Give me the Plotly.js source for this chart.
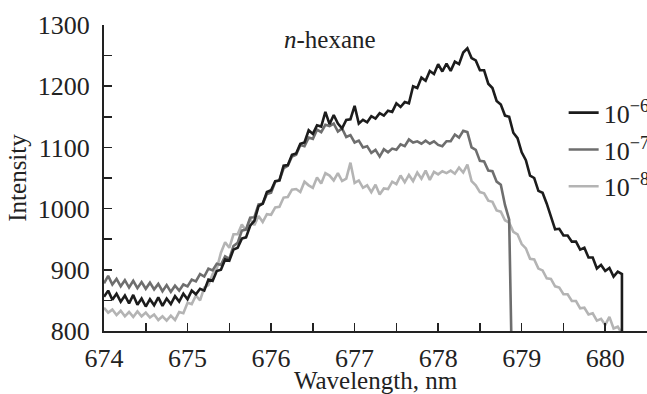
<!DOCTYPE html>
<html>
<head>
<meta charset="utf-8">
<script src="https://cdn.plot.ly/plotly-3.0.1.min.js"></script>
<style>html,body{margin:0;padding:0;background:#fff;overflow:hidden;}#wrap{width:647px;height:394px;overflow:hidden;}#chart{width:680px;height:394px;}</style>
</head>
<body>
<div id="wrap"><div id="chart"></div></div>
<script>
// Wavelength grid (nm)
const wl = [
674.00,674.05,674.10,674.15,674.20,674.25,674.30,674.35,674.40,674.45,
674.50,674.55,674.60,674.65,674.70,674.75,674.80,674.85,674.90,674.95,
675.00,675.05,675.10,675.15,675.20,675.25,675.30,675.35,675.40,675.45,
675.50,675.55,675.60,675.65,675.70,675.75,675.80,675.85,675.90,675.95,
676.00,676.05,676.10,676.15,676.20,676.25,676.30,676.35,676.40,676.45,
676.50,676.55,676.60,676.65,676.70,676.75,676.80,676.85,676.90,676.95,
677.00,677.05,677.10,677.15,677.20,677.25,677.30,677.35,677.40,677.45,
677.50,677.55,677.60,677.65,677.70,677.75,677.80,677.85,677.90,677.95,
678.00,678.05,678.10,678.15,678.20,678.25,678.30,678.35,678.40,678.45,
678.50,678.55,678.60,678.65,678.70,678.75,678.80,678.85,678.90,678.95,
679.00,679.05,679.10,679.15,679.20,679.25,679.30,679.35,679.40,679.45,
679.50,679.55,679.60,679.65,679.70,679.75,679.80,679.85,679.90,679.95,
680.00,680.05,680.10,680.15,680.20
];

// 10^-6 (black)
const int6 = [
856,866,851,861,848,858,845,859,843,853,
840,852,842,855,841,853,844,857,848,861,
852,866,860,869,866,884,882,898,900,917,
915,933,936,951,953,972,980,1004,1008,1027,
1030,1045,1046,1070,1071,1088,1090,1106,1108,1128,
1122,1136,1134,1158,1138,1153,1139,1131,1145,1146,
1168,1139,1145,1141,1151,1147,1156,1152,1160,1158,
1172,1166,1174,1172,1200,1197,1214,1209,1225,1220,
1236,1224,1237,1225,1240,1236,1255,1262,1246,1242,
1226,1226,1204,1197,1176,1170,1152,1150,1124,1115,
1092,1079,1054,1050,1029,1026,1008,986,966,967,
956,956,946,946,933,936,920,920,902,908,
898,903,889,897,893
];
const end6X = 680.20, end6Y = 760;

// 10^-7 (dark grey)
const int7 = [
878,890,876,885,873,883,871,882,870,880,
869,879,868,877,865,875,864,874,866,876,
873,884,881,893,889,902,899,910,908,922,
918,939,944,964,966,985,986,1007,1008,1024,
1026,1044,1046,1066,1070,1085,1088,1104,1102,1116,
1114,1129,1125,1137,1135,1139,1126,1131,1117,1120,
1108,1111,1100,1102,1091,1096,1085,1097,1092,1098,
1096,1105,1102,1113,1108,1110,1106,1111,1106,1110,
1104,1102,1110,1110,1121,1116,1127,1125,1100,1096,
1078,1077,1062,1061,1044,1039,1006,982
];
const end7X = 678.88, end7Y = 760;

// 10^-8 (light grey)
const int8 = [
838,830,835,826,833,824,831,823,832,824,
830,822,827,818,824,817,825,818,831,829,
846,844,858,850,871,875,893,902,928,945,
936,958,958,974,964,983,973,988,978,991,
990,1002,1003,1018,1019,1031,1032,1027,1044,1038,
1034,1051,1041,1058,1054,1046,1058,1045,1049,1075,
1042,1046,1034,1038,1027,1039,1023,1033,1032,1044,
1040,1054,1043,1055,1045,1059,1049,1062,1047,1060,
1056,1061,1058,1062,1057,1067,1059,1072,1045,1038,
1027,1025,1013,1011,997,995,981,977,962,958,
942,935,918,917,902,899,886,885,873,871,
860,860,849,849,837,838,827,829,817,820,
810,823,804,807,796
];

const names = ['10<sup>\u22126</sup>', '10<sup>\u22127</sup>', '10<sup>\u22128</sup>'];
const colors = ['#1c1c1c', '#6e6e6e', '#b4b4b4'];
const xTicks = [674, 675, 676, 677, 678, 679, 680];
const yTicks = [800, 900, 1000, 1100, 1200, 1300];

const n7 = int7.length;
const traces = [
  {x: wl, y: int8, name: names[2], line: {color: colors[2], width: 2.6}},
  {x: wl.slice(0, n7).concat([end7X]), y: int7.concat([end7Y]), name: names[1], line: {color: colors[1], width: 2.6}},
  {x: wl.concat([end6X]), y: int6.concat([end6Y]), name: names[0], line: {color: colors[0], width: 2.6}}
].map(t => Object.assign({type: 'scatter', mode: 'lines', hoverinfo: 'skip'}, t));

const fam = 'Liberation Serif';
const tickFont = {family: fam, size: 26, color: '#222'};
const titleFont = {family: fam, size: 25, color: '#222'};
const legendFont = {family: fam, size: 26, color: '#222'};
const axisCommon = {
  showgrid: false, zeroline: false, showline: true, linecolor: '#222', linewidth: 2,
  ticks: 'inside', ticklen: 8, tickwidth: 1.5, tickcolor: '#222',
  tickfont: tickFont, mirror: false
};

// The figure is slightly wider than the 647px window so that the legend
// labels are cut at the right edge, as in the reference.
const layout = {
  width: 680, height: 394,
  margin: {l: 104, r: 33, t: 25, b: 63},
  paper_bgcolor: '#fff', plot_bgcolor: '#fff',
  font: titleFont,
  showlegend: true,
  legend: {
    x: 0.8465, xanchor: 'left', y: 0.79, yanchor: 'top',
    font: legendFont, traceorder: 'reversed', bgcolor: 'rgba(0,0,0,0)',
    itemwidth: 30, tracegroupgap: 0
  },
  xaxis: Object.assign({}, axisCommon, {
    range: [674, 680.5], tickvals: xTicks, ticktext: xTicks.map(String),
    minor: {dtick: 0.5, tick0: 674, ticks: 'inside', ticklen: 8, tickwidth: 1.5, tickcolor: '#222'},
    title: {text: 'Wavelength, nm', font: titleFont, standoff: 6},
    ticklabelstandoff: 3
  }),
  yaxis: Object.assign({}, axisCommon, {
    range: [800, 1300], tickvals: yTicks, ticktext: yTicks.map(String),
    minor: {dtick: 50, tick0: 800, ticks: 'inside', ticklen: 8, tickwidth: 1.5, tickcolor: '#222'},
    title: {text: 'Intensity', font: titleFont, standoff: 4},
    ticklabelstandoff: 7
  }),
  annotations: [{
    x: 676.7, y: 1276, xref: 'x', yref: 'y', text: '<i>n</i>-hexane',
    showarrow: false, font: titleFont
  }]
};

Plotly.newPlot('chart', traces, layout, {displayModeBar: false, staticPlot: true});
</script>
</body>
</html>
